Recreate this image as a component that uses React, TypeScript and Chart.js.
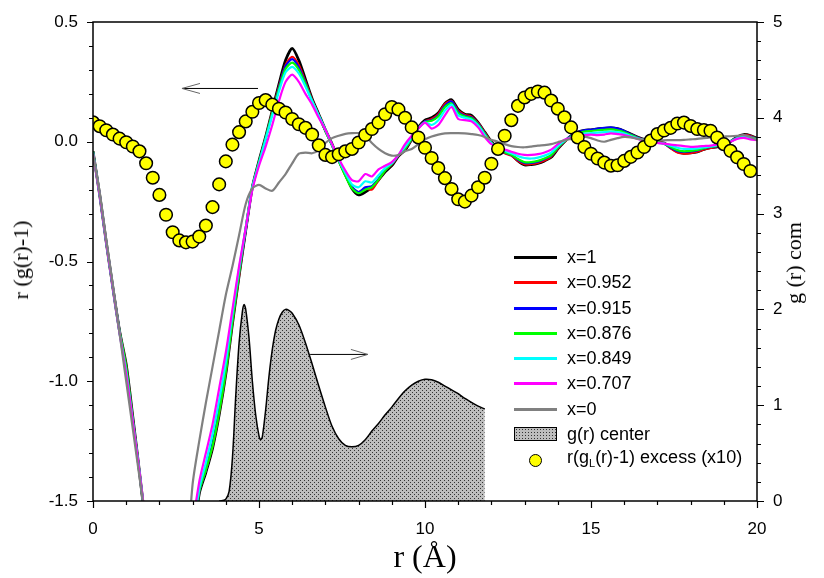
import React, { useEffect, useRef } from 'react';
import { Chart, registerables } from 'chart.js';
Chart.register(...registerables);

// r grid (Å) for the r(g(r)-1) curves, step 0.2
const rLine: number[] = Array.from({ length: 101 }, (_, i) => Math.round(i * 2) / 10);

const lineX1 = [-0.04,-0.22,-0.42,-0.61,-0.79,-0.93,-1.15,-1.38,-1.62,-1.85,
 -2.05,-2.2,-2.3,-2.3,-2.1,-1.7,-1.47,-1.38,-1.28,-1.14,
 -0.97,-0.76,-0.56,-0.37,-0.19,-0.08,0.02,0.13,0.24,0.34,
 0.39,0.34,0.26,0.18,0.115,0.05,-0.01,-0.075,-0.135,-0.195,
 -0.222,-0.21,-0.19,-0.16,-0.125,-0.1,-0.06,-0.035,0.01,0.06,
 0.09,0.1,0.12,0.16,0.175,0.135,0.115,0.11,0.08,0.04,
 0.0,-0.028,-0.045,-0.055,-0.08,-0.097,-0.095,-0.09,-0.08,-0.065,
 -0.03,0.0,0.025,0.04,0.048,0.05,0.054,0.056,0.058,0.055,
 0.045,0.032,0.02,0.01,0.005,0.0,-0.005,-0.025,-0.042,-0.048,
 -0.046,-0.042,-0.032,-0.025,-0.021,-0.012,0.0,0.02,0.03,0.026,
 0.014];

const lineX0952 = [-0.04,-0.22,-0.42,-0.61,-0.79,-0.94,-1.16,-1.38,-1.62,-1.85,
 -2.05,-2.2,-2.3,-2.3,-2.1,-1.7,-1.46,-1.37,-1.27,-1.13,
 -0.96,-0.75,-0.56,-0.37,-0.19,-0.085,0.015,0.125,0.23,0.32,
 0.355,0.32,0.25,0.175,0.11,0.045,-0.015,-0.08,-0.14,-0.19,
 -0.21,-0.195,-0.2,-0.16,-0.12,-0.095,-0.058,-0.03,0.01,0.058,
 0.085,0.095,0.115,0.158,0.17,0.13,0.112,0.105,0.078,0.038,
 -0.002,-0.03,-0.048,-0.058,-0.08,-0.094,-0.093,-0.088,-0.078,-0.062,
 -0.028,0.0,0.024,0.038,0.045,0.048,0.052,0.054,0.056,0.052,
 0.043,0.03,0.018,0.008,0.004,0.0,-0.006,-0.028,-0.045,-0.05,
 -0.048,-0.042,-0.032,-0.026,-0.02,-0.012,0.0,0.018,0.028,0.025,
 0.012];

const lineX0915 = [-0.04,-0.22,-0.42,-0.61,-0.79,-0.95,-1.16,-1.38,-1.62,-1.85,
 -2.05,-2.2,-2.3,-2.3,-2.1,-1.69,-1.46,-1.37,-1.26,-1.12,
 -0.95,-0.74,-0.55,-0.37,-0.19,-0.085,0.015,0.12,0.225,0.315,
 0.345,0.31,0.245,0.17,0.108,0.045,-0.015,-0.078,-0.138,-0.19,
 -0.21,-0.19,-0.185,-0.155,-0.118,-0.092,-0.056,-0.028,0.012,0.058,
 0.085,0.09,0.11,0.15,0.168,0.125,0.108,0.102,0.075,0.035,
 -0.003,-0.028,-0.045,-0.055,-0.075,-0.088,-0.088,-0.083,-0.072,-0.058,
 -0.025,0.002,0.025,0.04,0.048,0.05,0.055,0.058,0.06,0.055,
 0.045,0.03,0.018,0.008,0.003,-0.002,-0.008,-0.025,-0.038,-0.042,
 -0.04,-0.036,-0.028,-0.022,-0.018,-0.01,0.002,0.018,0.026,0.022,
 0.012];

const lineX0876 = [-0.04,-0.22,-0.42,-0.61,-0.79,-0.94,-1.16,-1.38,-1.62,-1.85,
 -2.05,-2.2,-2.3,-2.3,-2.1,-1.69,-1.46,-1.37,-1.27,-1.13,
 -0.96,-0.75,-0.55,-0.36,-0.19,-0.085,0.015,0.12,0.22,0.305,
 0.33,0.3,0.24,0.17,0.108,0.045,-0.015,-0.08,-0.142,-0.195,
 -0.215,-0.2,-0.19,-0.158,-0.12,-0.092,-0.055,-0.028,0.012,0.056,
 0.082,0.088,0.105,0.145,0.16,0.12,0.105,0.098,0.072,0.033,
 -0.004,-0.028,-0.044,-0.054,-0.072,-0.085,-0.085,-0.08,-0.07,-0.056,
 -0.024,0.002,0.022,0.036,0.042,0.045,0.048,0.05,0.052,0.048,
 0.04,0.028,0.016,0.007,0.002,-0.002,-0.008,-0.022,-0.035,-0.04,
 -0.038,-0.034,-0.027,-0.021,-0.017,-0.01,0.002,0.016,0.024,0.02,
 0.01];

const lineX0849 = [-0.045,-0.22,-0.42,-0.61,-0.8,-0.96,-1.17,-1.38,-1.61,-1.84,
 -2.05,-2.2,-2.3,-2.3,-2.08,-1.67,-1.45,-1.34,-1.22,-1.08,
 -0.92,-0.72,-0.53,-0.36,-0.19,-0.09,0.01,0.11,0.21,0.29,
 0.313,0.285,0.23,0.17,0.11,0.05,-0.012,-0.075,-0.13,-0.178,
 -0.19,-0.165,-0.17,-0.14,-0.11,-0.09,-0.055,-0.02,0.018,0.056,
 0.08,0.07,0.09,0.13,0.155,0.11,0.1,0.092,0.068,0.028,
 -0.006,-0.025,-0.038,-0.048,-0.06,-0.068,-0.07,-0.066,-0.058,-0.045,
 -0.018,0.004,0.018,0.028,0.034,0.036,0.038,0.04,0.042,0.04,
 0.034,0.024,0.014,0.006,0.001,-0.004,-0.008,-0.016,-0.025,-0.03,
 -0.03,-0.028,-0.023,-0.019,-0.015,-0.009,0.001,0.014,0.02,0.016,
 0.009];

const lineX0707 = [-0.05,-0.22,-0.42,-0.61,-0.8,-0.97,-1.17,-1.38,-1.6,-1.83,
 -2.05,-2.2,-2.3,-2.3,-2.05,-1.62,-1.42,-1.3,-1.18,-1.03,
 -0.88,-0.7,-0.52,-0.36,-0.2,-0.1,-0.02,0.07,0.17,0.25,
 0.28,0.25,0.2,0.155,0.1,0.05,-0.01,-0.07,-0.12,-0.16,
 -0.165,-0.135,-0.145,-0.115,-0.1,-0.085,-0.055,-0.01,0.025,0.055,
 0.08,0.055,0.07,0.11,0.145,0.095,0.09,0.085,0.06,0.02,
 -0.01,-0.022,-0.032,-0.042,-0.05,-0.055,-0.055,-0.052,-0.045,-0.033,
 -0.01,0.008,0.016,0.022,0.028,0.03,0.028,0.03,0.035,0.032,
 0.028,0.02,0.012,0.005,0.0,-0.005,-0.008,-0.012,-0.015,-0.018,
 -0.021,-0.02,-0.018,-0.016,-0.012,-0.008,0.0,0.012,0.016,0.01,
 0.007];

const lineX0 = [-0.05,-0.21,-0.41,-0.6,-0.8,-1.0,-1.2,-1.4,-1.6,-1.8,
 -2.0,-2.2,-2.3,-2.1,-1.8,-1.43,-1.25,-1.09,-0.94,-0.79,
 -0.64,-0.52,-0.39,-0.26,-0.195,-0.18,-0.195,-0.205,-0.17,-0.135,
 -0.09,-0.05,-0.045,-0.048,-0.035,-0.005,0.015,0.025,0.033,0.036,
 0.036,0.025,-0.005,-0.03,-0.048,-0.058,-0.055,-0.04,-0.03,-0.01,
 0.01,0.022,0.03,0.035,0.036,0.036,0.035,0.032,0.028,0.02,
 0.008,0.0,-0.01,-0.018,-0.022,-0.023,-0.02,-0.016,-0.014,-0.01,
 -0.002,0.006,0.012,0.018,0.021,0.015,0.005,0.0,0.008,0.015,
 0.02,0.018,0.012,0.008,0.007,0.006,0.006,0.007,0.007,0.008,
 0.01,0.012,0.015,0.018,0.021,0.022,0.023,0.025,0.028,0.02,
 0.007];

// g(r) center (right axis)
const gCenterR = [3.8,3.9,4.0,4.1,4.2,4.3,4.4,4.5,4.55,4.6,4.7,4.8,4.9,5.0,5.05,5.1,5.2,5.3,5.4,5.5,5.6,5.7,5.8,5.9,6.0,6.2,6.4,6.6,6.8,7.0,7.2,7.4,7.6,7.8,8.0,8.2,8.4,8.6,8.8,9.0,9.2,9.4,9.6,9.8,10.0,10.2,10.4,10.6,10.8,11.0,11.2,11.4,11.6,11.8];
const gCenterV = [0,0.005,0.02,0.1,0.45,1.1,1.65,1.98,2.05,2.0,1.7,1.25,0.9,0.68,0.64,0.67,0.95,1.3,1.58,1.78,1.9,1.97,2.0,1.99,1.96,1.84,1.65,1.43,1.2,0.98,0.78,0.65,0.58,0.565,0.58,0.64,0.73,0.81,0.9,0.98,1.07,1.15,1.21,1.25,1.27,1.265,1.24,1.2,1.16,1.12,1.07,1.03,0.99,0.96];

// r(gL(r)-1) excess (x10), step 0.2 from 0 to 19.8
const excessR: number[] = Array.from({ length: 100 }, (_, i) => Math.round(i * 2) / 10);
const excessV = [0.081,0.065,0.048,0.030,0.013,-0.002,-0.020,-0.040,-0.090,-0.150,
 -0.222,-0.305,-0.378,-0.412,-0.420,-0.417,-0.396,-0.350,-0.273,-0.178,
 -0.082,-0.012,0.040,0.085,0.125,0.162,0.174,0.155,0.138,0.122,
 0.095,0.073,0.058,0.030,-0.015,-0.055,-0.064,-0.052,-0.040,-0.030,
 -0.003,0.028,0.053,0.080,0.115,0.145,0.135,0.100,0.060,0.018,
 -0.025,-0.068,-0.110,-0.152,-0.197,-0.240,-0.250,-0.225,-0.190,-0.150,
 -0.092,-0.030,0.025,0.090,0.150,0.185,0.200,0.210,0.205,0.172,
 0.138,0.102,0.060,0.018,-0.022,-0.050,-0.070,-0.087,-0.100,-0.098,
 -0.080,-0.063,-0.045,-0.022,0.005,0.032,0.047,0.058,0.076,0.080,
 0.066,0.053,0.049,0.046,0.018,-0.010,-0.038,-0.065,-0.093,-0.122];

const lineSeries = [
  { label: 'x=1', data: lineX1, color: '#000000', width: 2.8, order: 7 },
  { label: 'x=0.952', data: lineX0952, color: '#ff0000', width: 2.2, order: 6 },
  { label: 'x=0.915', data: lineX0915, color: '#0000ff', width: 2.2, order: 5 },
  { label: 'x=0.876', data: lineX0876, color: '#00ff00', width: 2.2, order: 4 },
  { label: 'x=0.849', data: lineX0849, color: '#00ffff', width: 2.2, order: 3 },
  { label: 'x=0.707', data: lineX0707, color: '#ff00ff', width: 2.2, order: 2 },
  { label: 'x=0', data: lineX0, color: '#808080', width: 2.2, order: 1 },
];

// arrows (data coordinates)
const leftArrow = { r0: 4.97, r1: 2.68, v: 0.2225 };
const rightArrow = { r0: 6.54, r1: 8.28, g: 1.53 };

function makePattern(): CanvasPattern | string {
  const c = document.createElement('canvas');
  c.width = 4; c.height = 4;
  const x = c.getContext('2d');
  if (!x) return '#b0b0b0';
  x.fillStyle = '#bdbdbd';
  x.fillRect(0, 0, 4, 4);
  x.fillStyle = '#333333';
  x.fillRect(0, 0, 1, 1);
  x.fillRect(2, 2, 1, 1);
  return x.createPattern(c, 'repeat') || '#b0b0b0';
}

const framePlugin = {
  id: 'frameTicks',
  afterDatasetsDraw(chart: any) {
    const { ctx, chartArea: a, scales } = chart;
    const sx = scales.x, sy = scales.y, sy2 = scales.y2;
    ctx.save();
    ctx.strokeStyle = '#000';
    ctx.lineWidth = 1.5;
    ctx.strokeRect(a.left, a.top, a.right - a.left, a.bottom - a.top);
    ctx.lineWidth = 1.2;
    ctx.beginPath();
    for (let k = -15; k <= 5; k++) {
      const p = Math.round(sy.getPixelForValue(k / 10)) + 0.5;
      const len = k % 5 === 0 ? 6 : 4;
      ctx.moveTo(a.left - len, p); ctx.lineTo(a.left, p);
    }
    for (let k = 0; k <= 25; k++) {
      const p = Math.round(sy2.getPixelForValue(k / 5)) + 0.5;
      const len = k % 5 === 0 ? 7 : 4;
      ctx.moveTo(a.right, p); ctx.lineTo(a.right + len, p);
    }
    for (let k = 0; k <= 20; k++) {
      const p = Math.round(sx.getPixelForValue(k)) + 0.5;
      const len = k % 5 === 0 ? 7 : 4;
      ctx.moveTo(p, a.bottom); ctx.lineTo(p, a.bottom + len);
    }
    ctx.stroke();

    // left arrow (points to left axis)
    const ly = sy.getPixelForValue(leftArrow.v);
    const lx0 = sx.getPixelForValue(leftArrow.r0), lx1 = sx.getPixelForValue(leftArrow.r1);
    ctx.lineWidth = 1;
    ctx.strokeStyle = '#000';
    ctx.beginPath(); ctx.moveTo(lx0, ly); ctx.lineTo(lx1, ly); ctx.stroke();
    ctx.strokeStyle = '#666';
    ctx.beginPath();
    ctx.moveTo(lx1 + 18, ly - 5); ctx.lineTo(lx1, ly); ctx.lineTo(lx1 + 18, ly + 5);
    ctx.stroke();

    // right arrow (points to right axis)
    const ry = sy2.getPixelForValue(rightArrow.g);
    const rx0 = sx.getPixelForValue(rightArrow.r0), rx1 = sx.getPixelForValue(rightArrow.r1);
    ctx.strokeStyle = '#000';
    ctx.beginPath(); ctx.moveTo(rx0, ry); ctx.lineTo(rx1, ry); ctx.stroke();
    ctx.strokeStyle = '#666';
    ctx.beginPath();
    ctx.moveTo(rx1 - 17, ry - 5); ctx.lineTo(rx1, ry); ctx.lineTo(rx1 - 17, ry + 5);
    ctx.stroke();
    ctx.restore();
  },
};

const legendRows = [
  { kind: 'line', color: '#000000', text: 'x=1' },
  { kind: 'line', color: '#ff0000', text: 'x=0.952' },
  { kind: 'line', color: '#0000ff', text: 'x=0.915' },
  { kind: 'line', color: '#00ff00', text: 'x=0.876' },
  { kind: 'line', color: '#00ffff', text: 'x=0.849' },
  { kind: 'line', color: '#ff00ff', text: 'x=0.707' },
  { kind: 'line', color: '#808080', text: 'x=0' },
  { kind: 'box', color: '', text: 'g(r) center' },
  { kind: 'dot', color: '#ffff00', text: '' },
];

export default function App() {
  const ref = useRef<HTMLCanvasElement | null>(null);
  useEffect(() => {
    if (!ref.current) return;
    const pattern = makePattern();
    const datasets: any[] = [];
    datasets.push({
      label: 'r(gL(r)-1) excess (x10)',
      data: excessR.map((r, i) => ({ x: r, y: excessV[i] })),
      yAxisID: 'y',
      showLine: false,
      pointRadius: 6.3,
      pointBackgroundColor: '#ffff00',
      pointBorderColor: '#000',
      pointBorderWidth: 1.5,
      backgroundColor: '#ffff00',
      borderColor: '#000',
      order: 0,
    });
    lineSeries.forEach((s) => {
      datasets.push({
        label: s.label,
        data: rLine.map((r, i) => ({ x: r, y: s.data[i] })),
        yAxisID: 'y',
        borderColor: s.color,
        borderWidth: s.width,
        pointRadius: 0,
        tension: 0.25,
        fill: false,
        order: s.order,
      });
    });
    datasets.push({
      label: 'g(r) center',
      data: gCenterR.map((r, i) => ({ x: r, y: gCenterV[i] })),
      yAxisID: 'y2',
      borderColor: '#000',
      borderWidth: 1.5,
      backgroundColor: pattern,
      fill: 'origin',
      pointRadius: 0,
      tension: 0.3,
      order: 8,
    });

    const tickFont = { family: '"Liberation Sans", Arial, sans-serif', size: 17 };
    const fixV = (w: number) => (s: any) => { s.width = w; s.paddingTop = 5; s.paddingBottom = 5; };
    const chart = new Chart(ref.current, {
      type: 'line',
      data: { datasets },
      options: {
        animation: false,
        responsive: false,
        devicePixelRatio: 1,
        layout: { padding: { top: 22, left: 0, right: 0, bottom: 0 } },
        plugins: { legend: { display: false }, tooltip: { enabled: false } },
        scales: {
          x: {
            type: 'linear', min: 0, max: 20,
            grid: { display: false, drawTicks: false },
            border: { display: false },
            ticks: { stepSize: 5, color: '#000', font: tickFont, padding: 18, maxRotation: 0 },
            afterFit: (s: any) => { s.height = 77; s.paddingLeft = 5; s.paddingRight = 5; },
          },
          y: {
            type: 'linear', position: 'left', min: -1.5, max: 0.5,
            grid: { display: false, drawTicks: false },
            border: { display: false },
            ticks: { stepSize: 0.5, color: '#000', font: tickFont, padding: 15,
              callback: (v: any) => Number(v).toFixed(1) },
            afterFit: fixV(93),
          },
          y2: {
            type: 'linear', position: 'right', min: 0, max: 5,
            grid: { display: false, drawTicks: false },
            border: { display: false },
            ticks: { stepSize: 1, color: '#000', font: tickFont, padding: 16 },
            afterFit: fixV(67),
          },
        },
      } as any,
      plugins: [framePlugin],
    });
    return () => chart.destroy();
  }, []);

  const rowY = [256.7, 282.3, 307.7, 332.7, 357.7, 383.3, 409, 434.3, 460];
  const legendFont = '"Liberation Sans", Arial, sans-serif';
  return (
    <div style={{ position: 'absolute', left: 0, top: 0, width: 824, height: 578, background: '#fff', overflow: 'hidden' }}>
      <canvas ref={ref} width={824} height={578} style={{ position: 'absolute', left: 0, top: 0, width: 824, height: 578 }} />
      {legendRows.map((row, i) => (
        <div key={i} style={{ position: 'absolute', left: 514, top: rowY[i] - 12, height: 24, display: 'flex', alignItems: 'center', whiteSpace: 'nowrap' }}>
          <div style={{ width: 43, height: 24, position: 'relative' }}>
            {row.kind === 'line' && (
              <div style={{ position: 'absolute', left: 0, top: 11, width: 43, height: 3, background: row.color }} />
            )}
            {row.kind === 'box' && (
              <div style={{ position: 'absolute', left: 0, top: 5, width: 41, height: 12, border: '1px solid #000',
                backgroundColor: '#bdbdbd', backgroundImage: 'radial-gradient(#333 0.6px, transparent 0.9px)', backgroundSize: '3px 3px' }} />
            )}
            {row.kind === 'dot' && (
              <div style={{ position: 'absolute', left: 15, top: 6, width: 11, height: 11, borderRadius: '50%', background: '#ffff00', border: '1.5px solid #000' }} />
            )}
          </div>
          <div style={{ marginLeft: 10, fontFamily: legendFont, fontSize: 18, color: '#000', lineHeight: '24px' }}>
            {row.kind === 'dot' ? (
              <span>r(g<sub style={{ fontSize: 11, verticalAlign: -4 }}>L</sub>(r)-1) excess (x10)</span>
            ) : row.text}
          </div>
        </div>
      ))}
      <div style={{ position: 'absolute', left: 21, top: 260, transform: 'translate(-50%, -50%) rotate(-90deg)', fontFamily: '"Liberation Serif", "Times New Roman", serif', fontSize: 22, whiteSpace: 'nowrap', color: '#000' }}>
        r (g(r)-1)
      </div>
      <div style={{ position: 'absolute', left: 794, top: 263, transform: 'translate(-50%, -50%) rotate(-90deg)', fontFamily: '"Liberation Serif", "Times New Roman", serif', fontSize: 22, whiteSpace: 'nowrap', color: '#000' }}>
        g (r) com
      </div>
      <div style={{ position: 'absolute', left: 425, top: 556, transform: 'translate(-50%, -50%)', fontFamily: '"Liberation Serif", "Times New Roman", serif', fontSize: 32, whiteSpace: 'nowrap', color: '#000' }}>
        r (Å)
      </div>
    </div>
  );
}
